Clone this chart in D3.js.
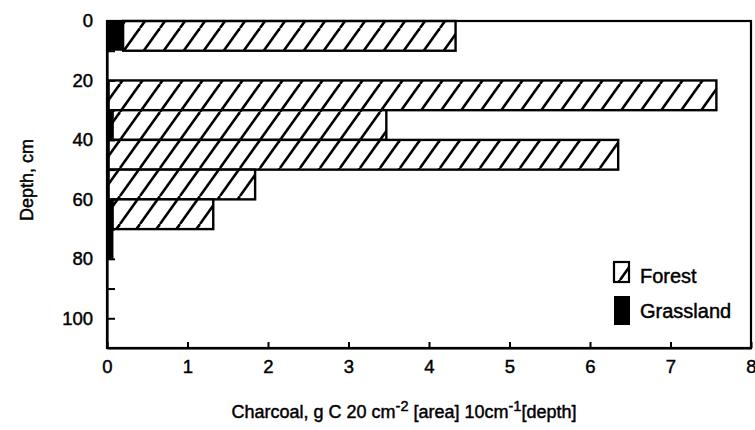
<!DOCTYPE html>
<html>
<head>
<meta charset="utf-8">
<script src="https://cdn.jsdelivr.net/npm/d3@7/dist/d3.min.js"></script>
<style>
  html, body { margin: 0; padding: 0; background: #fff; }
  svg { display: block; font-family: "Liberation Sans", Arial, sans-serif; }
  svg text { stroke: #000; stroke-width: 0.45px; fill: #000; }
</style>
</head>
<body>
<div id="chart"></div>
<script>
// Charcoal by soil depth interval (10 cm layers), forest vs grassland
const depthTop = [0, 10, 20, 30, 40, 50, 60, 70];
const grassland = [0.20, 0, 0.02, 0.07, 0.02, 0.02, 0.07, 0.08];
const forest = [4.13, 0, 7.55, 3.40, 6.33, 1.82, 1.25, 0];
const layerThickness = 10;
const xTicks = [0, 1, 2, 3, 4, 5, 6, 7, 8];
const yLabelTicks = [0, 20, 40, 60, 80, 100];
const yTicks = [0, 10, 20, 30, 40, 50, 60, 70, 80, 90, 100];
const seriesNames = ["Forest", "Grassland"];

const W = 755, H = 430;
const m = { left: 107, right: 4, top: 21, bottom: 82 };

const svg = d3.select("#chart").append("svg")
  .attr("width", W).attr("height", H);

const defs = svg.append("defs");
const pat = defs.append("pattern")
  .attr("id", "hatch")
  .attr("patternUnits", "userSpaceOnUse")
  .attr("width", 20).attr("height", 28);
pat.append("rect").attr("width", 20).attr("height", 28).attr("fill", "#fff");
[-20, 0, 20].forEach(dx => {
  pat.append("line")
    .attr("x1", dx).attr("y1", 28).attr("x2", dx + 20).attr("y2", 0)
    .attr("stroke", "#000").attr("stroke-width", 2.6);
});

const x = d3.scaleLinear().domain([0, 8]).range([m.left, W - m.right]);
const y = d3.scaleLinear().domain([0, 110]).range([m.top, H - m.bottom]);

const rows = depthTop.map((d, i) => ({ d, g: grassland[i], f: forest[i] }));

// forest bars, starting where the grassland bar ends
svg.append("g").selectAll("rect")
  .data(rows.filter(r => r.f > 0))
  .join("rect")
  .attr("x", r => x(r.g))
  .attr("y", r => y(r.d))
  .attr("width", r => x(r.g + r.f) - x(r.g))
  .attr("height", r => y(r.d + layerThickness) - y(r.d))
  .attr("fill", "url(#hatch)")
  .attr("stroke", "#000")
  .attr("stroke-width", 2.4);

// grassland bars
svg.append("g").selectAll("rect")
  .data(rows.filter(r => r.g > 0))
  .join("rect")
  .attr("x", x(0))
  .attr("y", r => y(r.d))
  .attr("width", r => x(r.g) - x(0))
  .attr("height", r => y(r.d + layerThickness) - y(r.d))
  .attr("fill", "#000");

// plot frame
svg.append("rect")
  .attr("x", x(0)).attr("y", y(0))
  .attr("width", x(8) - x(0)).attr("height", y(110) - y(0))
  .attr("fill", "none").attr("stroke", "#000").attr("stroke-width", 2.2);

// x axis with inward ticks
const xAxis = d3.axisBottom(x).tickValues(xTicks).tickSizeInner(-6).tickSizeOuter(0)
  .tickFormat(d3.format("d")).tickPadding(12);
const gx = svg.append("g").attr("transform", `translate(0,${y(110)})`).call(xAxis);
gx.select(".domain").attr("stroke-width", 2.2);
gx.selectAll(".tick line").attr("stroke-width", 2);
gx.selectAll(".tick text").attr("font-size", 18.5)
  .attr("font-family", "Liberation Sans, Arial, sans-serif");

// y axis with inward ticks
const yAxis = d3.axisLeft(y).tickValues(yTicks).tickSizeInner(-8).tickSizeOuter(0)
  .tickFormat(d => yLabelTicks.includes(d) ? d : "").tickPadding(14);
const gy = svg.append("g").attr("transform", `translate(${x(0)},0)`).call(yAxis);
gy.select(".domain").attr("stroke-width", 2.2);
gy.selectAll(".tick line").attr("stroke-width", 2);
gy.selectAll(".tick text").attr("font-size", 18.5)
  .attr("font-family", "Liberation Sans, Arial, sans-serif");

// axis titles
const xt = svg.append("text")
  .attr("x", 404).attr("y", 418)
  .attr("text-anchor", "middle")
  .attr("font-size", 18);
xt.append("tspan").text("Charcoal, g C 20 cm");
xt.append("tspan").attr("dy", -7).attr("font-size", 14.5).text("-2");
xt.append("tspan").attr("dy", 7).text(" [area] 10cm");
xt.append("tspan").attr("dy", -7).attr("font-size", 14.5).text("-1");
xt.append("tspan").attr("dy", 7).text("[depth]");

svg.append("text")
  .attr("transform", "translate(33,180) rotate(-90)")
  .attr("text-anchor", "middle")
  .attr("font-size", 18)
  .text("Depth, cm");

// legend
const legend = svg.append("g");
legend.append("rect")
  .attr("x", 614).attr("y", 262).attr("width", 15).attr("height", 20)
  .attr("fill", "url(#hatch)").attr("stroke", "#000").attr("stroke-width", 2.2);
legend.append("rect")
  .attr("x", 614).attr("y", 296).attr("width", 16).attr("height", 29)
  .attr("fill", "#000");
legend.append("text").attr("x", 640).attr("y", 283).attr("font-size", 20).text(seriesNames[0]);
legend.append("text").attr("x", 640).attr("y", 318).attr("font-size", 20).text(seriesNames[1]);
</script>
</body>
</html>
